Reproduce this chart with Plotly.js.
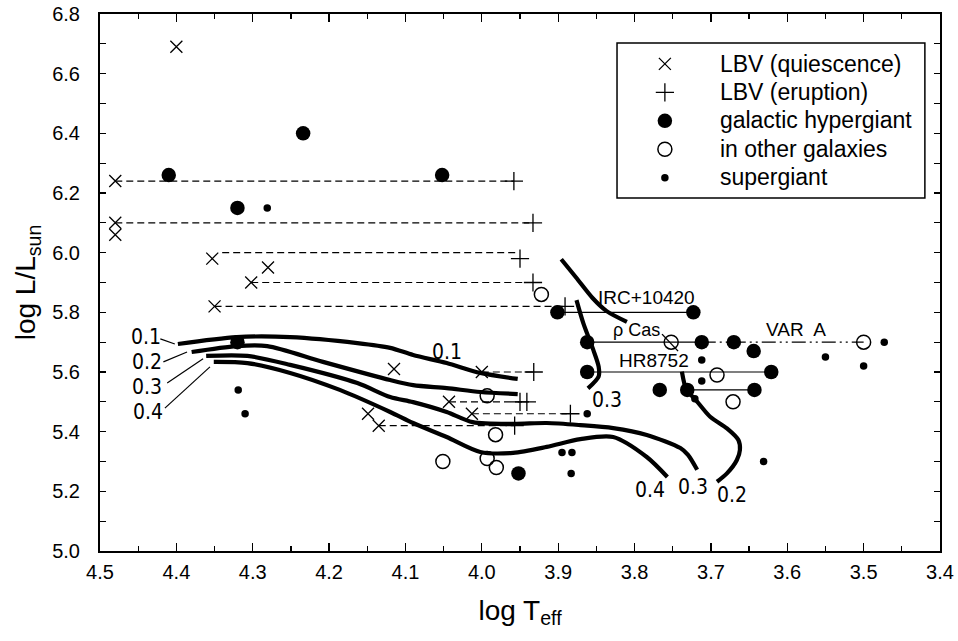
<!DOCTYPE html>
<html>
<head>
<meta charset="utf-8">
<script src="https://cdn.plot.ly/plotly-3.0.1.min.js"></script>
<style>html,body{margin:0;padding:0;background:#fff;}#chart{width:958px;height:641px;}</style>
</head>
<body>
<div id="chart"></div>
<script>
// ---- data (log Teff, log L/Lsun) ----
const lbvQuiescenceX = [4.40, 4.48, 4.48, 4.48, 4.353, 4.28, 4.302, 4.35, 4.115, 4.0, 4.043, 4.013, 4.149, 4.135];
const lbvQuiescenceY = [6.69, 6.24, 6.10, 6.06, 5.98, 5.95, 5.90, 5.82, 5.61, 5.60, 5.50, 5.46, 5.46, 5.42];

const lbvEruptionX = [3.958, 3.933, 3.95, 3.933, 3.891, 3.932, 3.95, 3.941, 3.884, 3.957];
const lbvEruptionY = [6.24, 6.10, 5.98, 5.90, 5.82, 5.60, 5.50, 5.50, 5.46, 5.42];

const hypergiantX = [4.410, 4.234, 4.052, 4.32, 4.32, 3.901, 3.862, 3.862, 3.767, 3.952, 3.723, 3.712, 3.670, 3.644, 3.621, 3.731, 3.643];
const hypergiantY = [6.26, 6.40, 6.26, 6.15, 5.70, 5.80, 5.70, 5.60, 5.54, 5.26, 5.80, 5.70, 5.70, 5.67, 5.60, 5.54, 5.54];

const otherGalaxyX = [3.922, 3.993, 3.982, 4.051, 3.993, 3.981, 3.752, 3.692, 3.671, 3.50];
const otherGalaxyY = [5.86, 5.52, 5.39, 5.30, 5.31, 5.28, 5.70, 5.59, 5.50, 5.70];

const supergiantX = [4.281, 4.319, 4.31, 3.862, 3.895, 3.882, 3.883, 3.712, 3.712, 3.721, 3.55, 3.50, 3.473, 3.631];
const supergiantY = [6.15, 5.54, 5.46, 5.46, 5.33, 5.33, 5.26, 5.64, 5.57, 5.51, 5.65, 5.62, 5.70, 5.30];

// LBV quiescence -> eruption links (dashed)
const lbvLinkY     = [6.24, 6.10, 6.00, 5.90, 5.82, 5.60, 5.50, 5.46, 5.42];
const lbvLinkXFrom = [4.48, 4.48, 4.34, 4.302, 4.35, 4.0, 4.043, 4.013, 4.135];
const lbvLinkXTo   = [3.958, 3.933, 3.955, 3.933, 3.891, 3.932, 3.941, 3.884, 3.957];

// hypergiant excursions (solid)
const hgLinkY     = [5.80, 5.70, 5.60, 5.54];
const hgLinkXFrom = [3.901, 3.862, 3.862, 3.731];
const hgLinkXTo   = [3.723, 3.712, 3.621, 3.643];

// VAR A (dash-dot-dot)
const varALinkY = [5.70];
const varALinkXFrom = [3.712];
const varALinkXTo = [3.50];

// evolutionary tracks (thick)
const track01X = [4.398, 4.321, 4.251, 4.163, 4.120, 4.090, 4.046, 4.002, 3.953];
const track01Y = [5.694, 5.717, 5.717, 5.697, 5.681, 5.657, 5.630, 5.597, 5.577];
const track02X = [4.380, 4.321, 4.281, 4.208, 4.120, 4.090, 4.046, 4.002, 3.953];
const track02Y = [5.667, 5.687, 5.687, 5.634, 5.573, 5.556, 5.546, 5.533, 5.526];
const track03X = [4.361, 4.307, 4.251, 4.163, 4.120, 4.090, 4.046, 4.012, 3.959, 3.915, 3.871, 3.828, 3.784, 3.740, 3.730, 3.718];
const track03Y = [5.654, 5.654, 5.624, 5.563, 5.516, 5.499, 5.466, 5.432, 5.426, 5.429, 5.422, 5.412, 5.389, 5.345, 5.322, 5.272];
const track04X = [4.351, 4.307, 4.251, 4.186, 4.120, 4.090, 4.046, 4.002, 3.959, 3.915, 3.871, 3.828, 3.784, 3.757];
const track04Y = [5.634, 5.630, 5.597, 5.540, 5.466, 5.429, 5.382, 5.332, 5.329, 5.349, 5.375, 5.382, 5.315, 5.248];
const trackUpperX = [3.896, 3.876, 3.855, 3.837, 3.810];
const trackUpperY = [5.978, 5.915, 5.848, 5.805, 5.768];
const trackRed03X = [3.876, 3.867, 3.854, 3.847, 3.847, 3.861];
const trackRed03Y = [5.841, 5.763, 5.674, 5.618, 5.585, 5.545];
const trackRed02X = [3.738, 3.732, 3.721, 3.701, 3.679, 3.664, 3.662, 3.666, 3.679, 3.692];
const trackRed02Y = [5.601, 5.540, 5.510, 5.450, 5.411, 5.372, 5.339, 5.305, 5.260, 5.232];

const xTickVals = [4.5, 4.4, 4.3, 4.2, 4.1, 4.0, 3.9, 3.8, 3.7, 3.6, 3.5, 3.4];
const yTickVals = [5.0, 5.2, 5.4, 5.6, 5.8, 6.0, 6.2, 6.4, 6.6, 6.8];

const legendNames = ['LBV (quiescence)', 'LBV (eruption)', 'galactic hypergiant', 'in other galaxies', 'supergiant'];

// ---- build traces ----
const FONT = 'Liberation Sans, Arial, sans-serif';
const NARROW = 'Liberation Sans Narrow, DejaVu Sans Condensed, sans-serif';
const traces = [];

function segments(yArr, x0Arr, x1Arr, dash, width) {
  const xs = [], ys = [];
  yArr.forEach((y, i) => { xs.push(x0Arr[i], x1Arr[i], null); ys.push(y, y, null); });
  return {x: xs, y: ys, mode: 'lines', showlegend: false, hoverinfo: 'skip',
          line: {color: '#000', width: width, dash: dash}};
}
traces.push(segments(lbvLinkY, lbvLinkXFrom, lbvLinkXTo, '7px,4px', 1.2));
traces.push(segments(hgLinkY, hgLinkXFrom, hgLinkXTo, 'solid', 1.2));
traces.push(segments(varALinkY, varALinkXFrom, varALinkXTo, '14px,4px,2px,4px,2px,4px', 1.2));

[[track01X, track01Y], [track02X, track02Y], [track03X, track03Y], [track04X, track04Y],
 [trackUpperX, trackUpperY], [trackRed03X, trackRed03Y], [trackRed02X, trackRed02Y]].forEach(t => {
  traces.push({x: t[0], y: t[1], mode: 'lines', showlegend: false, hoverinfo: 'skip',
               line: {color: '#000', width: 4.2, shape: 'spline', smoothing: 0.8}});
});

function legendLabel(s) { return '<span style="font-size:23px">' + s + '</span>'; }

traces.push({x: lbvQuiescenceX, y: lbvQuiescenceY, mode: 'markers', name: legendLabel(legendNames[0]),
  marker: {symbol: 'x-thin-open', size: 12, color: '#000', line: {color: '#000', width: 1.3}}});
traces.push({x: lbvEruptionX, y: lbvEruptionY, mode: 'markers', name: legendLabel(legendNames[1]),
  marker: {symbol: 'cross-thin-open', size: 13, color: '#000', line: {color: '#000', width: 1.3}}});
traces.push({x: hypergiantX, y: hypergiantY, mode: 'markers', name: legendLabel(legendNames[2]),
  marker: {symbol: 'circle', size: 14.5, color: '#000', line: {width: 0}}});
traces.push({x: otherGalaxyX, y: otherGalaxyY, mode: 'markers', name: legendLabel(legendNames[3]),
  marker: {symbol: 'circle-open', size: 14, color: '#000', line: {color: '#000', width: 1.5}}});
traces.push({x: supergiantX, y: supergiantY, mode: 'markers', name: legendLabel(legendNames[4]),
  marker: {symbol: 'circle', size: 7.5, color: '#000', line: {width: 0}}});

// ---- annotations & decorations ----
function label(x, y, text, font, size) {
  return {x: x, y: y, xref: 'x', yref: 'y', text: text, showarrow: false,
          font: {family: font, size: size, color: '#000'}, xanchor: 'center', yanchor: 'middle'};
}
const annotations = [
  label(4.440, 5.717, '0.1', NARROW, 21),
  label(4.438, 5.634, '0.2', NARROW, 21),
  label(4.438, 5.550, '0.3', NARROW, 21),
  label(4.437, 5.466, '0.4', NARROW, 21),
  label(4.046, 5.667, '0.1', NARROW, 21),
  label(3.836, 5.506, '0.3', NARROW, 21),
  label(3.780, 5.204, '0.4', NARROW, 21),
  label(3.723, 5.215, '0.3', NARROW, 21),
  label(3.672, 5.188, '0.2', NARROW, 21),
  label(3.785, 5.851, 'IRC+10420', FONT, 19),
  label(3.798, 5.741, 'ρ Cas', FONT, 18),
  label(3.774, 5.637, 'HR8752', FONT, 19),
  label(3.589, 5.741, 'VAR  A', FONT, 19)
];
function seg(x0, y0, x1, y1, w) {
  return {type: 'line', xref: 'x', yref: 'y', x0: x0, y0: y0, x1: x1, y1: y1,
          line: {color: '#000', width: w}};
}
const shapes = [
  seg(4.421, 5.711, 4.402, 5.694, 1.2),
  seg(4.417, 5.634, 4.386, 5.667, 1.2),
  seg(4.412, 5.563, 4.365, 5.644, 1.2),
  seg(4.415, 5.479, 4.356, 5.617, 1.2),
  seg(3.764, 5.727, 3.743, 5.670, 1.4),
  {type: 'rect', xref: 'paper', yref: 'paper', x0: 0.6155, x1: 0.9820, y0: 0.6573, y1: 0.9460,
   line: {color: '#000', width: 1.5}, fillcolor: 'rgba(0,0,0,0)'}
];

const axisCommon = {
  showgrid: false, zeroline: false, showline: true, linecolor: '#000', linewidth: 2,
  mirror: 'ticks', ticks: 'inside', tickcolor: '#000', tickwidth: 1.3,
  tickfont: {family: FONT, size: 20, color: '#000'}, tickformat: '.1f'
};

const layout = {
  width: 958, height: 641,
  margin: {l: 100, r: 18, t: 14, b: 90},
  paper_bgcolor: '#fff', plot_bgcolor: '#fff',
  xaxis: Object.assign({}, axisCommon, {
    range: [4.5, 3.4], tickmode: 'array', tickvals: xTickVals, ticklen: 8,
    ticklabelstandoff: 2,
    minor: {dtick: 0.05, ticks: 'inside', ticklen: 5, tickcolor: '#000', tickwidth: 1.2},
    title: {text: 'log T<sub>eff</sub>', font: {family: FONT, size: 28, color: '#000'}, standoff: 18}
  }),
  yaxis: Object.assign({}, axisCommon, {
    range: [5.0, 6.8], tickmode: 'array', tickvals: yTickVals, ticklen: 6,
    ticklabelstandoff: 14,
    minor: {dtick: 0.1, ticks: 'inside', ticklen: 6, tickcolor: '#000', tickwidth: 1.2},
    title: {text: 'log L/L<sub>sun</sub>', font: {family: FONT, size: 28, color: '#000'}, standoff: 8}
  }),
  showlegend: true,
  legend: {
    x: 0.607, xanchor: 'left', y: 0.943, yanchor: 'top',
    bgcolor: 'rgba(0,0,0,0)', borderwidth: 0,
    itemwidth: 100, font: {family: FONT, size: 19.6, color: '#000'},
    tracegroupgap: 0
  },
  annotations: annotations,
  shapes: shapes
};

Plotly.newPlot('chart', traces, layout, {displayModeBar: false, staticPlot: true});
</script>
</body>
</html>
